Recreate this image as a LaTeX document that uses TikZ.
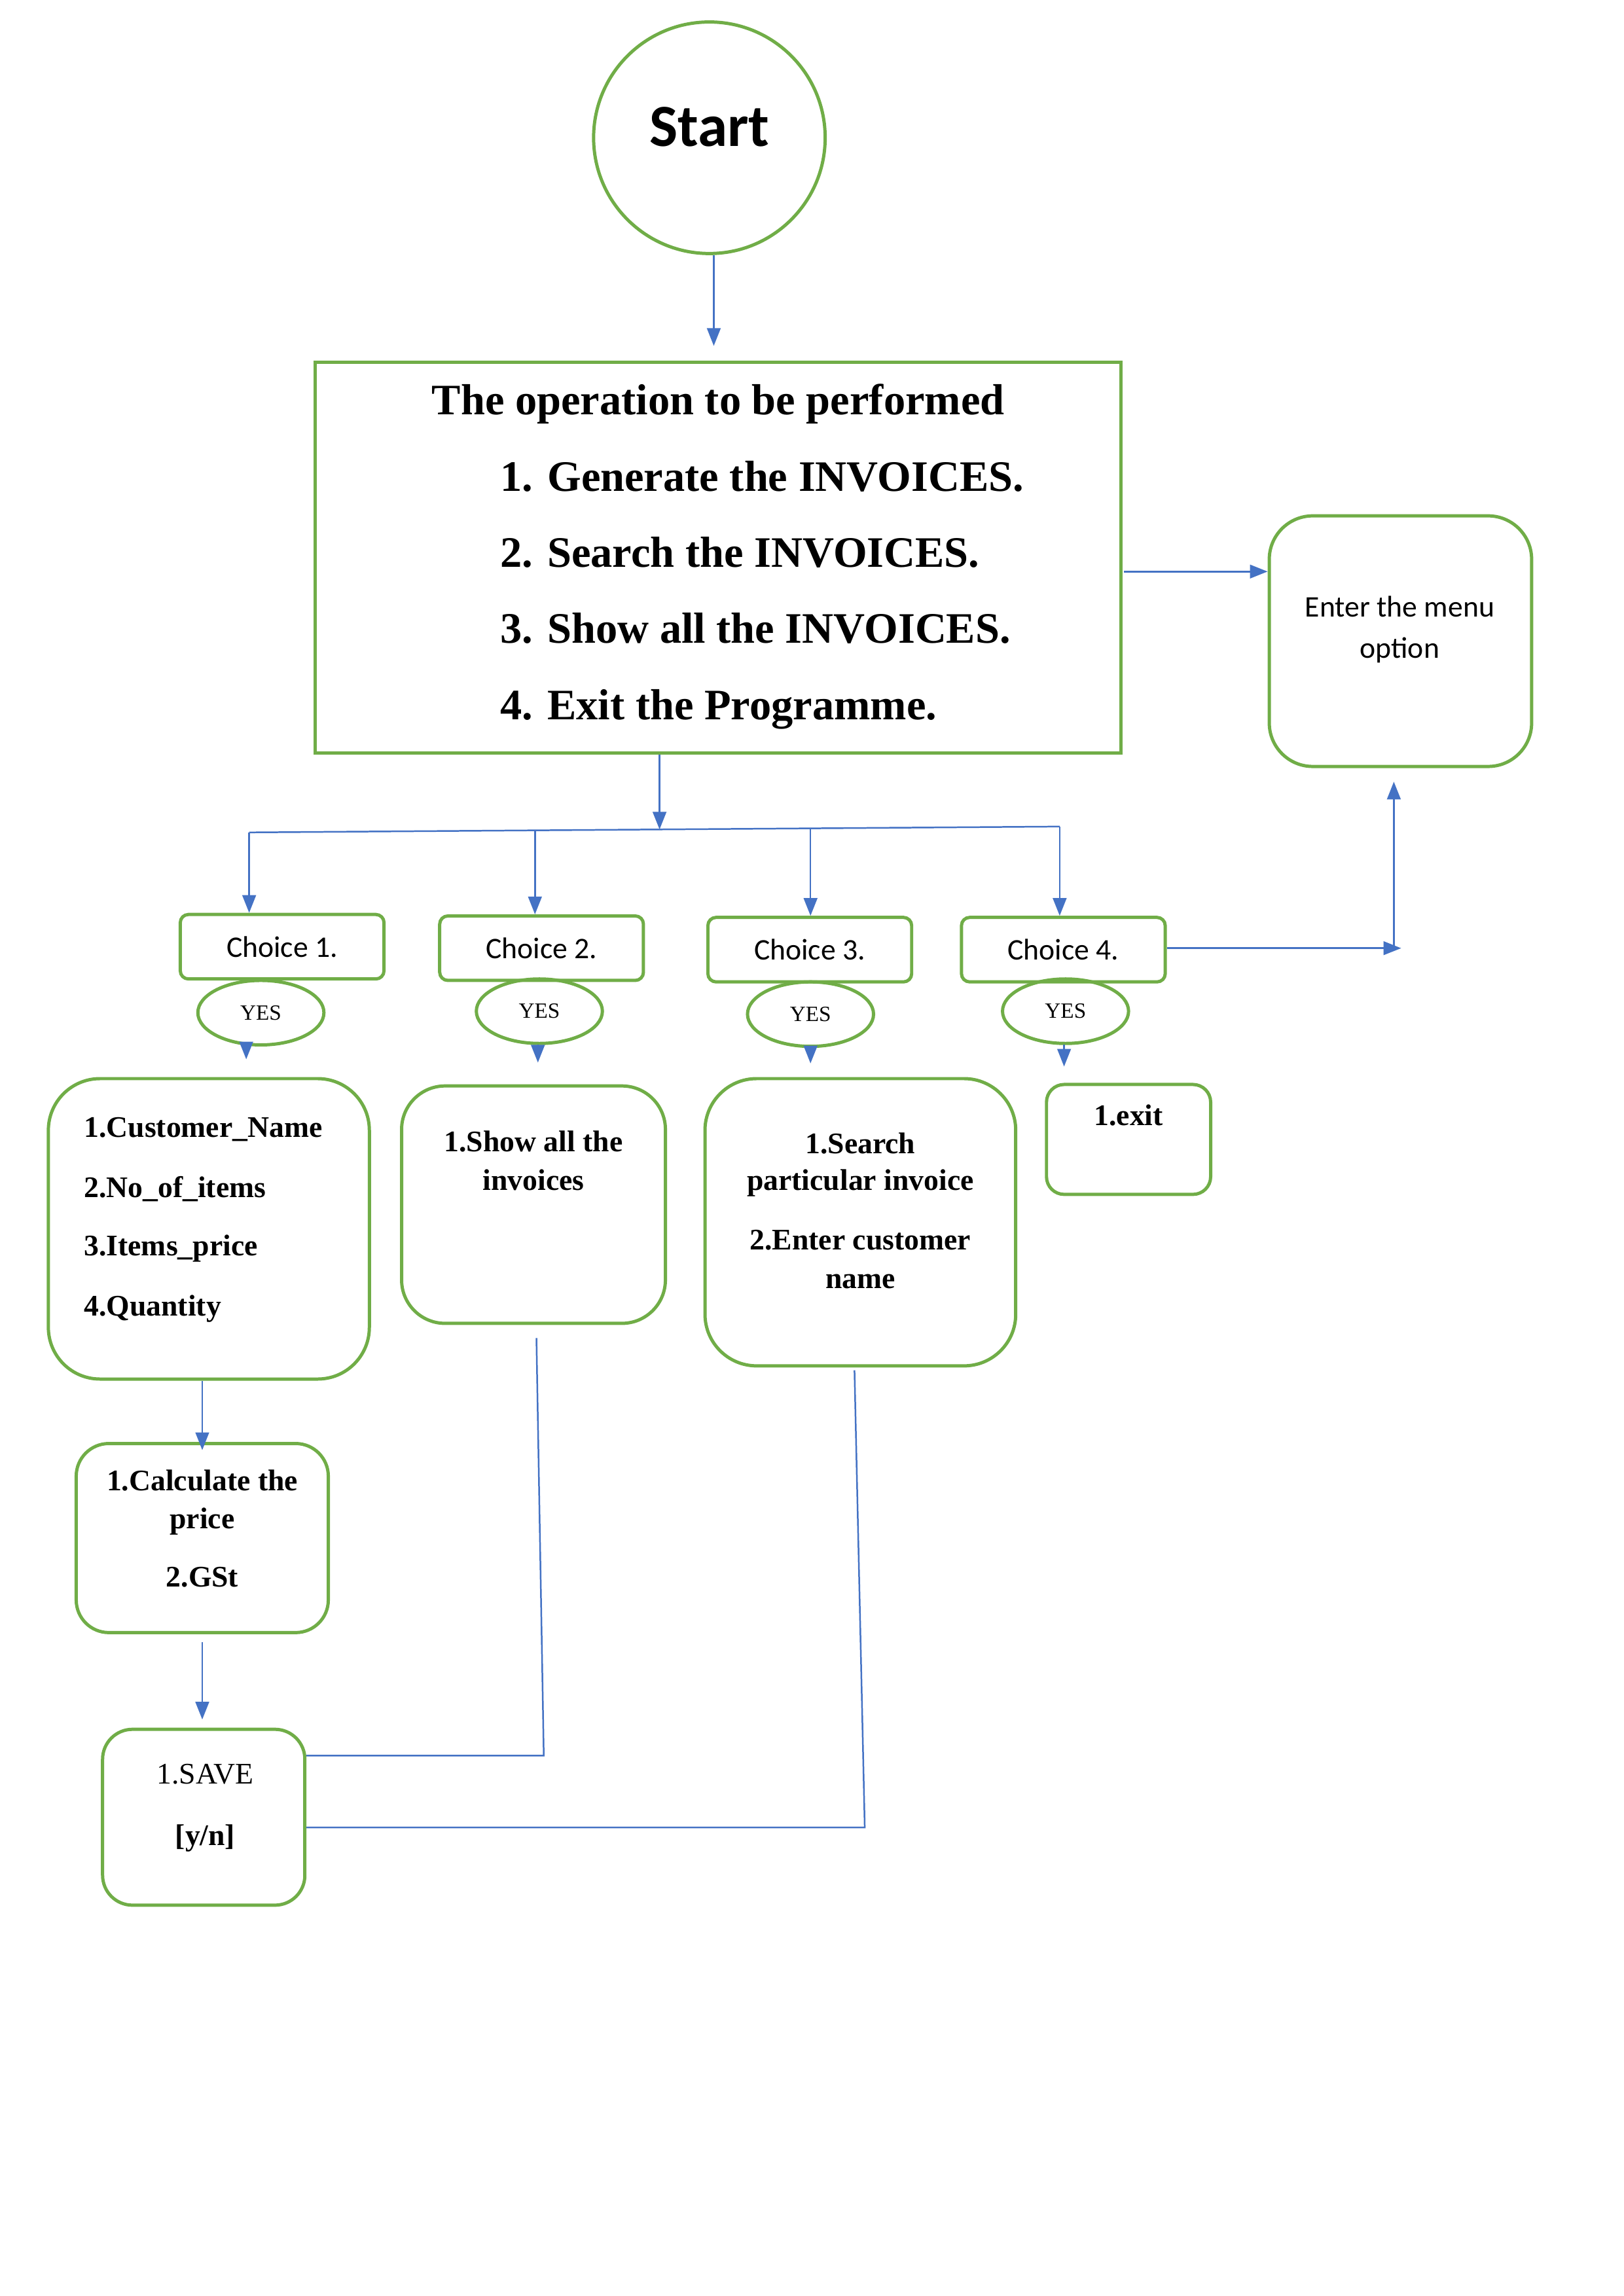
\documentclass[tikz,border=0pt]{standalone}
\usepackage{fontspec}
\setmainfont{Liberation Serif}
\newfontfamily\calibri{Carlito}
\usetikzlibrary{arrows.meta,shapes.geometric}

\newlength\pxl
\setlength\pxl{0.018953cm}
\definecolor{boxgreen}{HTML}{70AD47}
\definecolor{linkblue}{HTML}{4472C4}

\tikzset{
 box/.style={draw=boxgreen,line width=1.2pt,rounded corners=#1,inner sep=0pt},
 box/.default=16pt,
 yes/.style={draw=boxgreen,line width=1.2pt,ellipse,inner sep=0pt,
   minimum width=86*\pxl,minimum height=44*\pxl,font=\fontsize{8}{9}\selectfont},
 choice/.style={box=3pt,minimum width=139*\pxl,minimum height=44*\pxl,
   font=\calibri\fontsize{11}{13}\selectfont},
 txt/.style={inner sep=0pt,anchor=base,font=\bfseries\fontsize{11}{13}\selectfont},
 big/.style={inner sep=0pt,anchor=base west,font=\bfseries\fontsize{16}{19}\selectfont},
 link/.style={draw=linkblue,line width=0.6pt},
 arr/.style={link,-{Triangle[length=6.5pt,width=5pt]}},
}

\begin{document}
\begin{tikzpicture}[x=0.018953cm,y=-0.018953cm]
 \useasboundingbox (0,0) rectangle (1108,1566.7);
 % start
 \node[draw=boxgreen,line width=1.2pt,circle,minimum size=158*\pxl,inner sep=0pt] (start) at (484,94) {};
 \node[inner sep=0pt,anchor=base,font=\calibri\bfseries\fontsize{22}{26}\selectfont] (starttxt) at (484,100) {Start};
 % menu of operations
 \node[box=0pt,minimum width=550*\pxl,minimum height=267*\pxl] (menu) at (490,380.5) {};
 \node[big,anchor=base] (title) at (490,283) {The operation to be performed};
 \node[big] (op1) at (341,335) {1. Generate the INVOICES.};
 \node[big] (op2) at (341,387) {2. Search the INVOICES.};
 \node[big] (op3) at (341,439) {3. Show all the INVOICES.};
 \node[big] (op4) at (341,491) {4. Exit the Programme.};
 % menu option
 \node[box,minimum width=179*\pxl,minimum height=171*\pxl] (enter) at (955.5,437.5) {};
 \node[txt,font=\calibri\fontsize{11}{13}\selectfont] (enter1) at (955,421) {Enter the menu};
 \node[txt,font=\calibri\fontsize{11}{13}\selectfont] (enter2) at (955,449) {option};
 % choices
 \node[choice] (choice1) at (192.5,646) {Choice 1.};
 \node[choice] (choice2) at (369.5,647) {Choice 2.};
 \node[choice] (choice3) at (552.5,648) {Choice 3.};
 \node[choice] (choice4) at (725.5,648) {Choice 4.};
 \node[yes] (yes1) at (178,691) {YES};
 \node[yes] (yes2) at (368,690) {YES};
 \node[yes] (yes3) at (553,692) {YES};
 \node[yes] (yes4) at (727,690) {YES};
 % choice 1
 \node[box=19pt,minimum width=219*\pxl,minimum height=205*\pxl] (cust) at (142.5,838.5) {};
 \node[txt,anchor=base west] (cust1) at (57,776) {1.Customer\_Name};
 \node[txt,anchor=base west] (cust2) at (57,817) {2.No\_of\_items};
 \node[txt,anchor=base west] (cust3) at (57,857) {3.Items\_price};
 \node[txt,anchor=base west] (cust4) at (57,898) {4.Quantity};
 \node[box=12pt,minimum width=172*\pxl,minimum height=129*\pxl] (calc) at (138,1049.5) {};
 \node[txt] (calc1) at (138,1017) {1.Calculate the};
 \node[txt] (calc2) at (138,1043) {price};
 \node[txt] (calc3) at (138,1083) {2.GSt};
 \node[box=11pt,minimum width=138*\pxl,minimum height=120*\pxl] (save) at (139,1240) {};
 \node[txt,font=\fontsize{11}{13}\selectfont] (save1) at (140,1217) {1.SAVE};
 \node[txt] (save2) at (140,1259) {[y/n]};
 % choice 2
 \node[box,minimum width=180*\pxl,minimum height=162*\pxl] (show) at (364,822) {};
 \node[txt] (show1) at (364,786) {1.Show all the};
 \node[txt] (show2) at (364,812) {invoices};
 % choice 3
 \node[box=19pt,minimum width=212*\pxl,minimum height=196*\pxl] (search) at (587,834) {};
 \node[txt] (search1) at (587,787) {1.Search};
 \node[txt] (search2) at (587,812) {particular invoice};
 \node[txt] (search3) at (587,853) {2.Enter customer};
 \node[txt] (search4) at (587,879) {name};
 % choice 4
 \node[box=6.5pt,minimum width=112*\pxl,minimum height=75*\pxl] (exit) at (770,777.5) {};
 \node[txt] (exit1) at (770,768) {1.exit};

 % connectors
 \coordinate (s2m) at (487,236);
 \draw[arr] (start.south -| s2m) -- (s2m);
 \coordinate (m2e) at (767,390);
 \draw[arr] (m2e) -- (m2e -| enter.west);
 \coordinate (split) at (450,566);
 \draw[arr] (menu.south -| split) -- (split);
 \coordinate (bus1) at (170,568);
 \coordinate (bus2) at (365,567);
 \coordinate (bus3) at (553,565);
 \coordinate (bus4) at (723,564);
 \draw[link] (bus1) -- (bus4);
 \draw[arr] (bus1) -- (bus1 |- choice1.north);
 \draw[arr] (bus2) -- (bus2 |- choice2.north);
 \draw[arr] (bus3) -- (bus3 |- choice3.north);
 \draw[arr] (bus4) -- (bus4 |- choice4.north);
 \coordinate (c4end) at (956,647);
 \draw[arr] (choice4.east |- c4end) -- (c4end);
 \coordinate (upbase) at (951,648);
 \draw[arr,shorten >=5pt] (upbase) -- (upbase |- enter.south);
 % yes arrows
 \coordinate (y1) at (168,712);
 \coordinate (y2) at (367,713);
 \coordinate (y3) at (553,714);
 \coordinate (y4) at (726,713);
 \draw[arr,shorten >=6.5pt] (y1) -- (y1 |- cust.north);
 \draw[arr,shorten >=8pt] (y2) -- (y2 |- show.north);
 \draw[arr,shorten >=5pt] (y3) -- (y3 |- search.north);
 \draw[arr,shorten >=6pt] (y4) -- (y4 |- exit.north);
 % down to save
 \draw[arr,shorten >=-3pt] (calc.north |- cust.south) -- (calc.north);
 \draw[arr,shorten <=3pt,shorten >=3pt] (calc.south) -- (calc.south |- save.north);
 \coordinate (showdn) at (366,913);
 \coordinate (showbend) at (371,1198);
 \draw[link] (showdn) -- (showbend) -- (showbend -| save.east);
 \coordinate (searchdn) at (583,935);
 \coordinate (searchbend) at (590,1247);
 \draw[link] (searchdn) -- (searchbend) -- (searchbend -| save.east);
\end{tikzpicture}
\end{document}
